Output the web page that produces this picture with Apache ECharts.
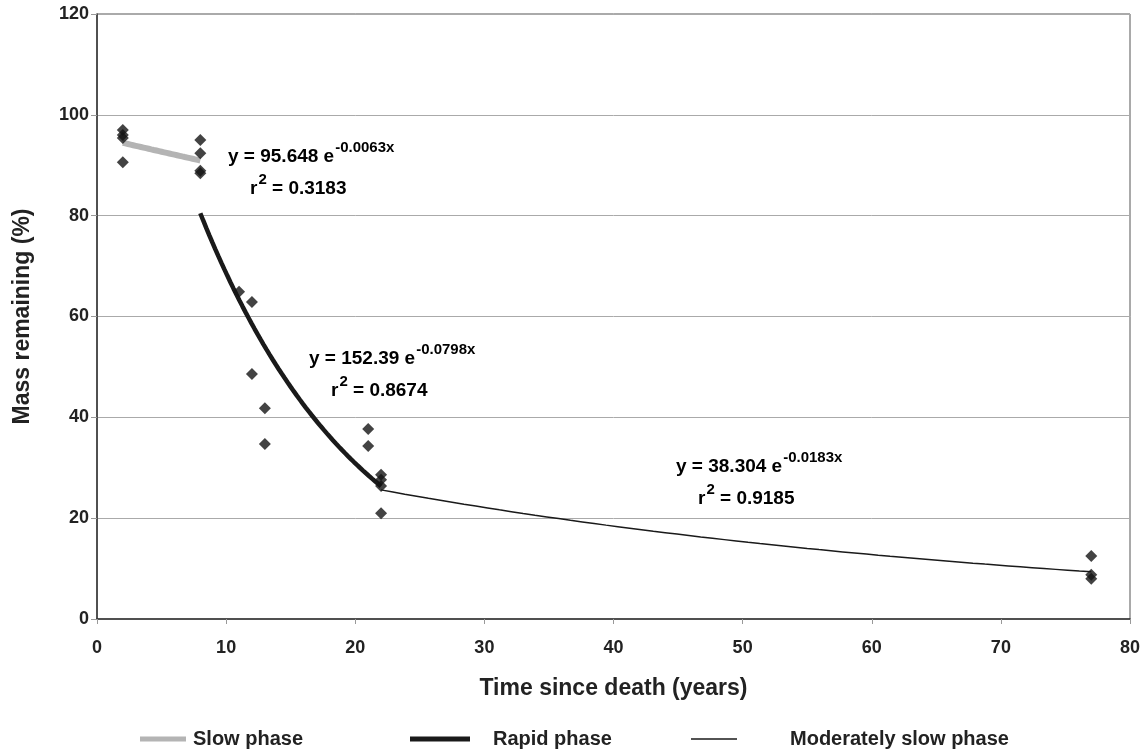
<!DOCTYPE html>
<html>
<head>
<meta charset="utf-8">
<script src="https://cdn.jsdelivr.net/npm/echarts@6/dist/echarts.min.js"></script>
<style>
  html, body { margin: 0; padding: 0; background: #fff; }
  #chart { width: 1146px; height: 752px; }
</style>
</head>
<body>
<div id="chart"></div>
<script>
// Observed mass remaining (%) against time since death (years)
const obsYears = [2, 2, 2, 2, 8, 8, 8, 8, 11, 12, 12, 13, 13, 21, 21, 22, 22, 22, 22, 77, 77, 77];
const obsMass  = [97.0, 96.0, 95.4, 90.6, 95.0, 92.4, 88.9, 88.4, 64.9, 62.9, 48.6, 41.8, 34.7, 37.7, 34.3, 28.6, 27.6, 26.4, 21.0, 12.5, 8.8, 8.0];

// Fitted exponential phases: y = a * e^(b x), drawn over [from, to]
const phaseNames = ['Slow phase', 'Rapid phase', 'Moderately slow phase'];
const phaseA     = [95.648, 152.39, 38.304];
const phaseB     = [-0.0063, -0.0798, -0.0183];
const phaseR2    = ['0.3183', '0.8674', '0.9185'];
const phaseFrom  = [2, 8, 22];
const phaseTo    = [8, 22, 77];

// Axis ticks
const xTicks = [0, 10, 20, 30, 40, 50, 60, 70, 80];
const yTicks = [0, 20, 40, 60, 80, 100, 120];

const FONT = '"Liberation Sans", Arial, sans-serif';

function fitCurve(i) {
  const pts = [];
  const n = 60;
  for (let k = 0; k <= n; k++) {
    const x = phaseFrom[i] + (phaseTo[i] - phaseFrom[i]) * k / n;
    pts.push([x, phaseA[i] * Math.exp(phaseB[i] * x)]);
  }
  return pts;
}

const lineStyles = [
  { color: '#b4b4b4', width: 6 },
  { color: '#1a1a1a', width: 4.5 },
  { color: '#1a1a1a', width: 1.5 }
];

const curveSeries = phaseNames.map((name, i) => ({
  name: name,
  type: 'line',
  data: fitCurve(i),
  showSymbol: false,
  symbol: 'none',
  lineStyle: lineStyles[i],
  itemStyle: { color: lineStyles[i].color },
  z: 3 - i + 2,
  silent: true
}));

const scatterSeries = {
  name: 'Observed',
  type: 'scatter',
  data: obsYears.map((x, i) => [x, obsMass[i]]),
  symbol: 'diamond',
  symbolSize: 12,
  itemStyle: { color: '#141414' },
  z: 10
};

// Equation labels with exponent as superscript
function eqText(i) {
  const a = phaseA[i].toFixed(phaseA[i] >= 100 ? 2 : 3);
  const b = phaseB[i].toFixed(4) + 'x';
  return '{m|y = ' + a + ' e}{s|' + b + '}\n{g| }{m|r}{s|2}{m| = ' + phaseR2[i] + '}';
}
const richStyle = {
  m: { fontFamily: FONT, fontWeight: 'bold', fontSize: 19, color: '#222', lineHeight: 32, verticalAlign: 'bottom' },
  s: { fontFamily: FONT, fontWeight: 'bold', fontSize: 15, color: '#222', verticalAlign: 'bottom', padding: [0, 0, 11, 1] },
  g: { fontFamily: FONT, fontSize: 19, lineHeight: 32, width: 22 }
};
const eqPos = [[228, 140], [309, 342], [676, 450]];

const legendPos = [[135, 193], [405, 493], [686, 790]];
const legendIcons = [46, 60, 46];

const chart = echarts.init(document.getElementById('chart'));
chart.setOption({
  backgroundColor: '#fff',
  animation: false,
  grid: {
    left: 97, right: 16, top: 14, bottom: 133,
    show: true, borderColor: '#555', borderWidth: 1
  },
  xAxis: {
    type: 'value',
    min: xTicks[0], max: xTicks[xTicks.length - 1], interval: 10,
    name: 'Time since death (years)',
    nameLocation: 'middle', nameGap: 58,
    nameTextStyle: { fontFamily: FONT, fontWeight: 'bold', fontSize: 23, color: '#222' },
    axisLine: { lineStyle: { color: '#333', width: 1.5 } },
    axisTick: { show: true, length: 5, lineStyle: { color: '#999' } },
    axisLabel: { fontFamily: FONT, fontWeight: 'bold', fontSize: 18, color: '#222', margin: 20 },
    splitLine: { show: false }
  },
  yAxis: {
    type: 'value',
    min: yTicks[0], max: yTicks[yTicks.length - 1], interval: 20,
    name: 'Mass remaining (%)',
    nameLocation: 'middle', nameGap: 63, nameRotate: 90,
    nameTextStyle: { fontFamily: FONT, fontWeight: 'bold', fontSize: 23, color: '#222' },
    axisLine: { show: true, lineStyle: { color: '#333', width: 1.5 } },
    axisTick: { show: true, length: 6, lineStyle: { color: '#999' } },
    axisLabel: { fontFamily: FONT, fontWeight: 'bold', fontSize: 18, color: '#222', margin: 8 },
    splitLine: { show: true, lineStyle: { color: '#aaa', width: 1 } }
  },
  legend: phaseNames.map((name, i) => ({
    data: [{ name: name, icon: 'rect' }],
    left: legendPos[i][0],
    top: 724,
    itemWidth: legendIcons[i],
    itemHeight: i === 2 ? 1.5 : 5,
    itemGap: 0,
    selectedMode: false,
    textStyle: {
      fontFamily: FONT, fontWeight: 'bold', fontSize: 20, color: '#222',
      padding: [0, 0, 0, legendPos[i][1] - legendPos[i][0] - legendIcons[i] - 10]
    }
  })),
  graphic: phaseNames.map((n, i) => ({
    type: 'text',
    left: eqPos[i][0],
    top: eqPos[i][1],
    style: { text: eqText(i), rich: richStyle }
  })),
  series: [...curveSeries, scatterSeries]
});
</script>
</body>
</html>
